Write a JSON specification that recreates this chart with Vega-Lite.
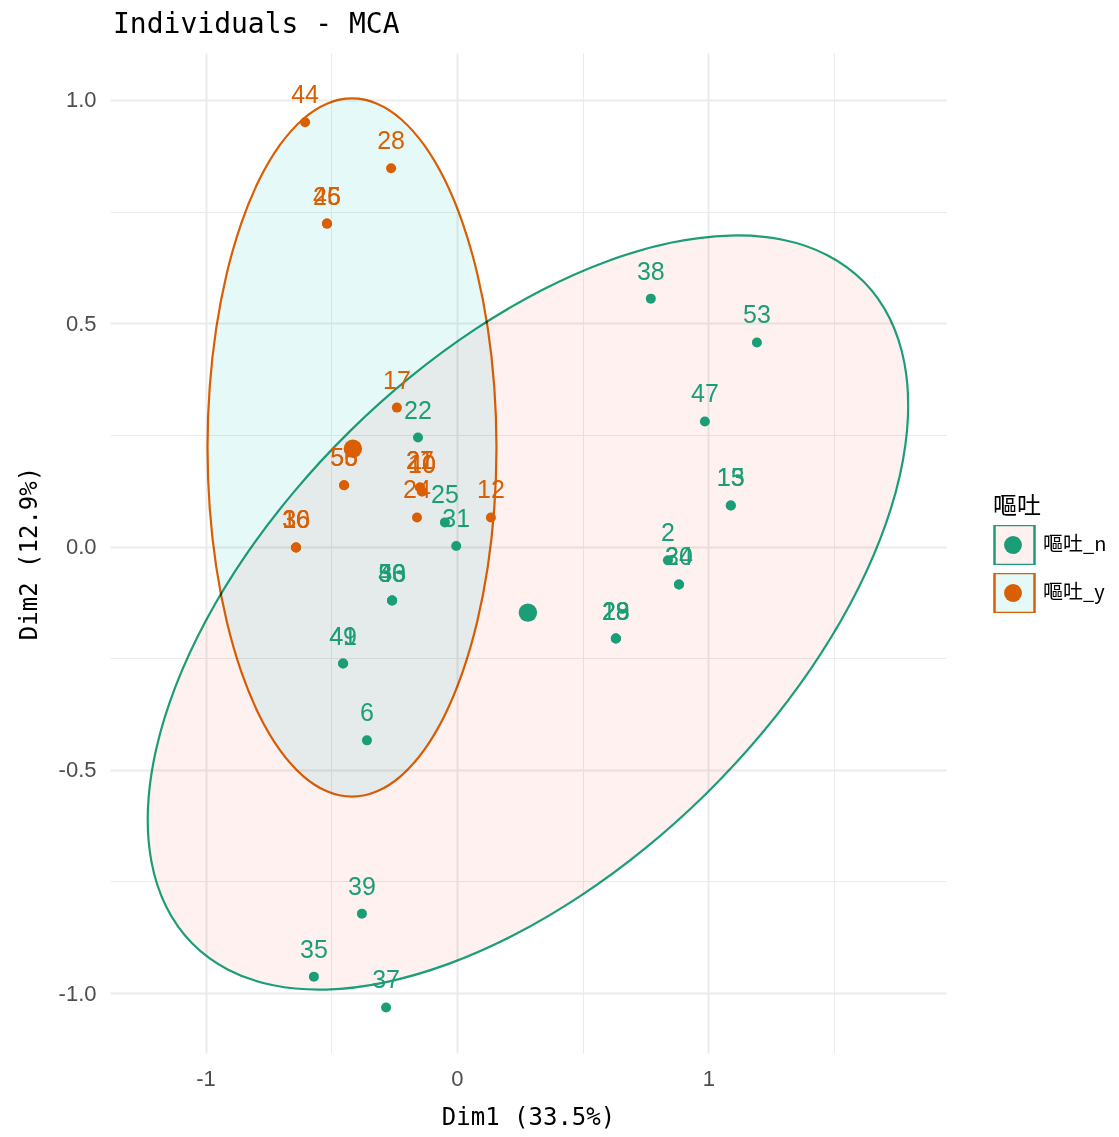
{
  "$schema": "https://vega.github.io/schema/vega-lite/v6.json",
  "width": 836,
  "height": 1000,
  "autosize": {"type": "none"},
  "padding": {"left": 110, "top": 53, "right": 173, "bottom": 84},
  "background": "white",
  "title": {
    "text": "Individuals - MCA",
    "anchor": "start",
    "frame": "group",
    "font": "DejaVu Sans Mono",
    "fontSize": 28,
    "fontWeight": "normal",
    "color": "black",
    "offset": 14,
    "dx": 3
  },
  "config": {
    "view": {"stroke": null},
    "axis": {
      "domain": false,
      "ticks": false,
      "labelFont": "Liberation Sans",
      "labelFontSize": 22,
      "labelColor": "#4D4D4D",
      "titleFont": "DejaVu Sans Mono",
      "titleFontSize": 24,
      "titleFontWeight": "normal",
      "titleColor": "black",
      "gridColor": "#EBEBEB"
    }
  },
  "datasets": {
    "ellipses": [
      {"grp": "嘔吐_n", "k": 0, "x": 1.6182, "y": 0.5927},
      {"grp": "嘔吐_n", "k": 1, "x": 1.7209, "y": 0.5110},
      {"grp": "嘔吐_n", "k": 2, "x": 1.7800, "y": 0.4094},
      {"grp": "嘔吐_n", "k": 3, "x": 1.7936, "y": 0.2907},
      {"grp": "嘔吐_n", "k": 4, "x": 1.7612, "y": 0.1587},
      {"grp": "嘔吐_n", "k": 5, "x": 1.6839, "y": 0.0175},
      {"grp": "嘔吐_n", "k": 6, "x": 1.5640, "y": -0.1288},
      {"grp": "嘔吐_n", "k": 7, "x": 1.4052, "y": -0.2756},
      {"grp": "嘔吐_n", "k": 8, "x": 1.2121, "y": -0.4186},
      {"grp": "嘔吐_n", "k": 9, "x": 0.9910, "y": -0.5534},
      {"grp": "嘔吐_n", "k": 10, "x": 0.7483, "y": -0.6758},
      {"grp": "嘔吐_n", "k": 11, "x": 0.4914, "y": -0.7822},
      {"grp": "嘔吐_n", "k": 12, "x": 0.2280, "y": -0.8694},
      {"grp": "嘔吐_n", "k": 13, "x": -0.0335, "y": -0.9345},
      {"grp": "嘔吐_n", "k": 14, "x": -0.2854, "y": -0.9757},
      {"grp": "嘔吐_n", "k": 15, "x": -0.5202, "y": -0.9919},
      {"grp": "嘔吐_n", "k": 16, "x": -0.7306, "y": -0.9824},
      {"grp": "嘔吐_n", "k": 17, "x": -0.9103, "y": -0.9474},
      {"grp": "嘔吐_n", "k": 18, "x": -1.0536, "y": -0.8883},
      {"grp": "嘔吐_n", "k": 19, "x": -1.1563, "y": -0.8066},
      {"grp": "嘔吐_n", "k": 20, "x": -1.2154, "y": -0.7050},
      {"grp": "嘔吐_n", "k": 21, "x": -1.2290, "y": -0.5863},
      {"grp": "嘔吐_n", "k": 22, "x": -1.1966, "y": -0.4543},
      {"grp": "嘔吐_n", "k": 23, "x": -1.1193, "y": -0.3131},
      {"grp": "嘔吐_n", "k": 24, "x": -0.9994, "y": -0.1668},
      {"grp": "嘔吐_n", "k": 25, "x": -0.8406, "y": -0.0200},
      {"grp": "嘔吐_n", "k": 26, "x": -0.6475, "y": 0.1230},
      {"grp": "嘔吐_n", "k": 27, "x": -0.4264, "y": 0.2578},
      {"grp": "嘔吐_n", "k": 28, "x": -0.1837, "y": 0.3802},
      {"grp": "嘔吐_n", "k": 29, "x": 0.0732, "y": 0.4866},
      {"grp": "嘔吐_n", "k": 30, "x": 0.3366, "y": 0.5738},
      {"grp": "嘔吐_n", "k": 31, "x": 0.5981, "y": 0.6389},
      {"grp": "嘔吐_n", "k": 32, "x": 0.8500, "y": 0.6801},
      {"grp": "嘔吐_n", "k": 33, "x": 1.0848, "y": 0.6963},
      {"grp": "嘔吐_n", "k": 34, "x": 1.2952, "y": 0.6868},
      {"grp": "嘔吐_n", "k": 35, "x": 1.4749, "y": 0.6518},
      {"grp": "嘔吐_y", "k": 0, "x": 0.1571, "y": 0.2217},
      {"grp": "嘔吐_y", "k": 1, "x": 0.1484, "y": 0.3574},
      {"grp": "嘔吐_y", "k": 2, "x": 0.1225, "y": 0.4890},
      {"grp": "嘔吐_y", "k": 3, "x": 0.0801, "y": 0.6125},
      {"grp": "嘔吐_y", "k": 4, "x": 0.0226, "y": 0.7241},
      {"grp": "嘔吐_y", "k": 5, "x": -0.0481, "y": 0.8204},
      {"grp": "嘔吐_y", "k": 6, "x": -0.1302, "y": 0.8986},
      {"grp": "嘔吐_y", "k": 7, "x": -0.2210, "y": 0.9562},
      {"grp": "嘔吐_y", "k": 8, "x": -0.3177, "y": 0.9914},
      {"grp": "嘔吐_y", "k": 9, "x": -0.4175, "y": 1.0033},
      {"grp": "嘔吐_y", "k": 10, "x": -0.5173, "y": 0.9914},
      {"grp": "嘔吐_y", "k": 11, "x": -0.6140, "y": 0.9562},
      {"grp": "嘔吐_y", "k": 12, "x": -0.7048, "y": 0.8986},
      {"grp": "嘔吐_y", "k": 13, "x": -0.7869, "y": 0.8204},
      {"grp": "嘔吐_y", "k": 14, "x": -0.8576, "y": 0.7241},
      {"grp": "嘔吐_y", "k": 15, "x": -0.9151, "y": 0.6125},
      {"grp": "嘔吐_y", "k": 16, "x": -0.9575, "y": 0.4890},
      {"grp": "嘔吐_y", "k": 17, "x": -0.9834, "y": 0.3574},
      {"grp": "嘔吐_y", "k": 18, "x": -0.9921, "y": 0.2217},
      {"grp": "嘔吐_y", "k": 19, "x": -0.9834, "y": 0.0860},
      {"grp": "嘔吐_y", "k": 20, "x": -0.9575, "y": -0.0456},
      {"grp": "嘔吐_y", "k": 21, "x": -0.9151, "y": -0.1691},
      {"grp": "嘔吐_y", "k": 22, "x": -0.8576, "y": -0.2807},
      {"grp": "嘔吐_y", "k": 23, "x": -0.7869, "y": -0.3770},
      {"grp": "嘔吐_y", "k": 24, "x": -0.7048, "y": -0.4552},
      {"grp": "嘔吐_y", "k": 25, "x": -0.6140, "y": -0.5128},
      {"grp": "嘔吐_y", "k": 26, "x": -0.5173, "y": -0.5480},
      {"grp": "嘔吐_y", "k": 27, "x": -0.4175, "y": -0.5599},
      {"grp": "嘔吐_y", "k": 28, "x": -0.3177, "y": -0.5480},
      {"grp": "嘔吐_y", "k": 29, "x": -0.2210, "y": -0.5128},
      {"grp": "嘔吐_y", "k": 30, "x": -0.1302, "y": -0.4552},
      {"grp": "嘔吐_y", "k": 31, "x": -0.0481, "y": -0.3770},
      {"grp": "嘔吐_y", "k": 32, "x": 0.0226, "y": -0.2807},
      {"grp": "嘔吐_y", "k": 33, "x": 0.0801, "y": -0.1691},
      {"grp": "嘔吐_y", "k": 34, "x": 0.1225, "y": -0.0456},
      {"grp": "嘔吐_y", "k": 35, "x": 0.1484, "y": 0.0860}
    ],
    "individuals": [
      {"id": "38", "grp": "嘔吐_n", "x": 0.771, "y": 0.555},
      {"id": "53", "grp": "嘔吐_n", "x": 1.193, "y": 0.457},
      {"id": "47", "grp": "嘔吐_n", "x": 0.986, "y": 0.280},
      {"id": "15", "grp": "嘔吐_n", "x": 1.089, "y": 0.092},
      {"id": "13", "grp": "嘔吐_n", "x": 1.089, "y": 0.092},
      {"id": "22", "grp": "嘔吐_n", "x": -0.155, "y": 0.244},
      {"id": "25", "grp": "嘔吐_n", "x": -0.048, "y": 0.054},
      {"id": "31", "grp": "嘔吐_n", "x": -0.003, "y": 0.001},
      {"id": "2", "grp": "嘔吐_n", "x": 0.839, "y": -0.031},
      {"id": "20", "grp": "嘔吐_n", "x": 0.883, "y": -0.085},
      {"id": "34", "grp": "嘔吐_n", "x": 0.883, "y": -0.085},
      {"id": "29", "grp": "嘔吐_n", "x": 0.632, "y": -0.206},
      {"id": "23", "grp": "嘔吐_n", "x": 0.632, "y": -0.206},
      {"id": "18", "grp": "嘔吐_n", "x": 0.632, "y": -0.206},
      {"id": "33", "grp": "嘔吐_n", "x": -0.258, "y": -0.121},
      {"id": "50", "grp": "嘔吐_n", "x": -0.258, "y": -0.121},
      {"id": "46", "grp": "嘔吐_n", "x": -0.258, "y": -0.121},
      {"id": "49", "grp": "嘔吐_n", "x": -0.453, "y": -0.262},
      {"id": "41", "grp": "嘔吐_n", "x": -0.453, "y": -0.262},
      {"id": "6", "grp": "嘔吐_n", "x": -0.358, "y": -0.434},
      {"id": "39", "grp": "嘔吐_n", "x": -0.378, "y": -0.822},
      {"id": "35", "grp": "嘔吐_n", "x": -0.569, "y": -0.963},
      {"id": "37", "grp": "嘔吐_n", "x": -0.282, "y": -1.032},
      {"id": "44", "grp": "嘔吐_y", "x": -0.604, "y": 0.950},
      {"id": "28", "grp": "嘔吐_y", "x": -0.262, "y": 0.847},
      {"id": "45", "grp": "嘔吐_y", "x": -0.517, "y": 0.723},
      {"id": "26", "grp": "嘔吐_y", "x": -0.517, "y": 0.723},
      {"id": "17", "grp": "嘔吐_y", "x": -0.239, "y": 0.311},
      {"id": "55", "grp": "嘔吐_y", "x": -0.449, "y": 0.137},
      {"id": "56", "grp": "嘔吐_y", "x": -0.449, "y": 0.137},
      {"id": "27", "grp": "嘔吐_y", "x": -0.147, "y": 0.132},
      {"id": "21", "grp": "嘔吐_y", "x": -0.147, "y": 0.132},
      {"id": "40", "grp": "嘔吐_y", "x": -0.139, "y": 0.123},
      {"id": "10", "grp": "嘔吐_y", "x": -0.139, "y": 0.123},
      {"id": "24", "grp": "嘔吐_y", "x": -0.159, "y": 0.065},
      {"id": "12", "grp": "嘔吐_y", "x": 0.135, "y": 0.065},
      {"id": "30", "grp": "嘔吐_y", "x": -0.640, "y": -0.002},
      {"id": "36", "grp": "嘔吐_y", "x": -0.640, "y": -0.002},
      {"id": "16", "grp": "嘔吐_y", "x": -0.640, "y": -0.002}
    ],
    "centres": [
      {"grp": "嘔吐_n", "x": 0.282, "y": -0.148},
      {"grp": "嘔吐_y", "x": -0.414, "y": 0.219}
    ]
  },
  "layer": [
    {
      "data": {"name": "ellipses"},
      "mark": {"type": "line", "interpolate": "cardinal-closed", "strokeWidth": 2.2, "blend": "multiply"},
      "encoding": {
        "x": {
          "field": "x",
          "type": "quantitative",
          "scale": {"domain": [-1.38, 1.945], "nice": false, "zero": false},
          "axis": {
            "title": "Dim1 (33.5%)",
            "values": [-1, -0.5, 0, 0.5, 1, 1.5],
            "labelExpr": "datum.value % 1 === 0 ? (datum.value < 0 ? '-' : '') + abs(datum.value) : ''",
            "gridWidth": {"condition": {"test": "datum.value % 1 === 0", "value": 2}, "value": 1},
            "labelPadding": 15,
            "titlePadding": 16
          }
        },
        "y": {
          "field": "y",
          "type": "quantitative",
          "scale": {"domain": [-1.134, 1.105], "nice": false, "zero": false},
          "axis": {
            "title": "Dim2 (12.9%)",
            "values": [-1, -0.75, -0.5, -0.25, 0, 0.25, 0.5, 0.75, 1],
            "labelExpr": "(datum.value * 2) % 1 === 0 ? (datum.value < 0 ? '-' : '') + format(abs(datum.value), '.1f') : ''",
            "gridWidth": {"condition": {"test": "(datum.value * 2) % 1 === 0", "value": 2}, "value": 1},
            "labelPadding": 14,
            "titlePadding": 17
          }
        },
        "order": {"field": "k", "type": "quantitative"},
        "stroke": {
          "field": "grp",
          "type": "nominal",
          "scale": {"range": ["#1B9E77", "#D95F02"]},
          "legend": {
            "title": "嘔吐", "orient": "none", "legendX": 883, "legendY": 442,
            "symbolType": "square", "symbolSize": 1600, "symbolStrokeWidth": 2.5,
            "clipHeight": 40, "rowPadding": 8, "labelOffset": 7, "padding": 0,
            "labelFont": "Noto Sans CJK TC", "labelFontSize": 20, "labelColor": "black",
            "titleFont": "Noto Sans CJK TC", "titleFontSize": 24, "titleFontWeight": "normal",
            "titleColor": "black", "titlePadding": 6
          }
        },
        "fill": {
          "field": "grp",
          "type": "nominal",
          "scale": {"range": ["#FEF1F0", "#E6F9F9"]},
          "legend": {
            "title": "嘔吐", "orient": "none", "legendX": 883, "legendY": 442,
            "symbolType": "square", "symbolSize": 1600, "symbolStrokeWidth": 2.5,
            "clipHeight": 40, "rowPadding": 8, "labelOffset": 7, "padding": 0,
            "labelFont": "Noto Sans CJK TC", "labelFontSize": 20, "labelColor": "black",
            "titleFont": "Noto Sans CJK TC", "titleFontSize": 24, "titleFontWeight": "normal",
            "titleColor": "black", "titlePadding": 6
          }
        }
      }
    },
    {
      "data": {"name": "individuals"},
      "mark": {"type": "circle", "size": 100, "opacity": 1},
      "encoding": {
        "x": {"field": "x", "type": "quantitative"},
        "y": {"field": "y", "type": "quantitative"},
        "color": {
          "field": "grp",
          "type": "nominal",
          "scale": {"range": ["#1B9E77", "#D95F02"]},
          "legend": {
            "title": "嘔吐", "orient": "none", "legendX": 893, "legendY": 442,
            "symbolType": "circle", "symbolSize": 320,
            "clipHeight": 40, "rowPadding": 8, "labelOffset": 7, "padding": 0,
            "labelFont": "Noto Sans CJK TC", "labelFontSize": 20, "labelOpacity": 0,
            "titleFont": "Noto Sans CJK TC", "titleFontSize": 24, "titleFontWeight": "normal",
            "titleOpacity": 0, "titlePadding": 6
          }
        }
      }
    },
    {
      "data": {"name": "individuals"},
      "mark": {"type": "text", "font": "Liberation Sans", "fontSize": 25, "baseline": "middle", "dy": -27},
      "encoding": {
        "x": {"field": "x", "type": "quantitative"},
        "y": {"field": "y", "type": "quantitative"},
        "text": {"field": "id"},
        "color": {"field": "grp", "type": "nominal"}
      }
    },
    {
      "data": {"name": "centres"},
      "mark": {"type": "circle", "size": 340, "opacity": 1},
      "encoding": {
        "x": {"field": "x", "type": "quantitative"},
        "y": {"field": "y", "type": "quantitative"},
        "color": {"field": "grp", "type": "nominal"}
      }
    },
    {
      "mark": {"type": "rule", "color": "black", "strokeWidth": 2, "strokeDash": [9, 6]},
      "encoding": {"x": {"datum": 0}}
    },
    {
      "mark": {"type": "rule", "color": "black", "strokeWidth": 2, "strokeDash": [9, 6]},
      "encoding": {"y": {"datum": 0}}
    }
  ]
}
